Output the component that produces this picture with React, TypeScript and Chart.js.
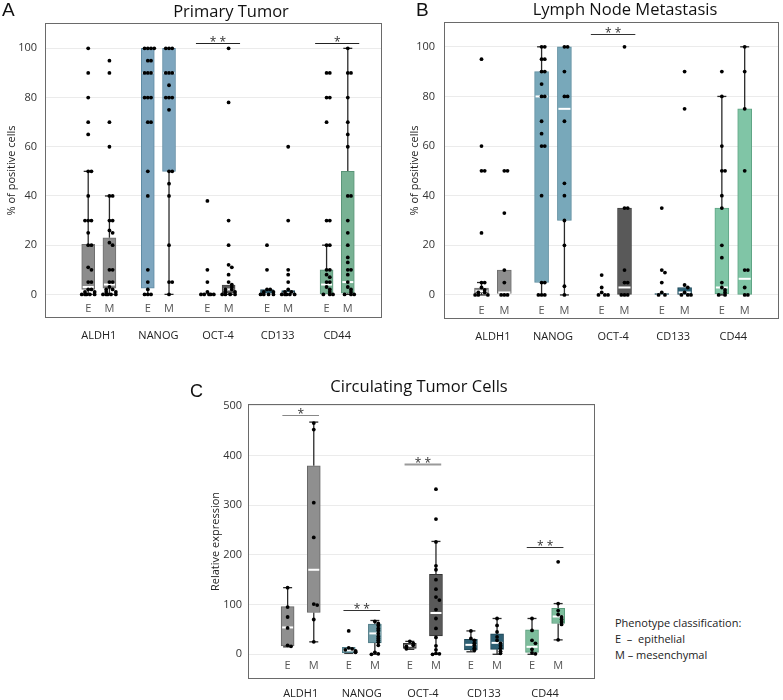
import React, { useEffect, useRef } from 'react';
import { Chart, registerables } from 'chart.js';

Chart.register(...registerables);
Chart.defaults.font.family = "'Open Sans', 'DejaVu Sans', sans-serif";

// ---------------- shared categories ----------------
const GROUPS = ['ALDH1', 'NANOG', 'OCT-4', 'CD133', 'CD44'];
const PHENOTYPES = ['E', 'M'];

// ---------------- Panel A: Primary Tumor (% of positive cells) ----------------
// box order: ALDH1 E, ALDH1 M, NANOG E, NANOG M, OCT-4 E, OCT-4 M, CD133 E, CD133 M, CD44 E, CD44 M
const A_Q1 = [2, 2.5, 2.5, 50, 0, 0.5, 0, 0, 0, 0.5];
const A_MED = [3, 4, 90, 90, 0, 2, 0, 0.5, 4, 5];
const A_Q3 = [20.3, 23, 100, 100, 0.5, 3.8, 2, 1.5, 10, 50];
const A_LO = [0, 0, 0, 0, 0, 0, 0, 0, 0, 0];
const A_HI = [50, 40, 100, 100, 0.5, 3.8, 2, 1.5, 20, 100];
const A_ALDH1_E = [100, 90, 80, 70, 65, 50, 50, 40, 30, 30, 30, 25, 20, 20, 11, 10, 5, 5, 2, 2, 1, 1, 0, 0, 0, 0, 0];
const A_ALDH1_M = [95, 90, 70, 60, 40, 40, 30, 30, 26, 25, 21, 20, 10, 10, 5, 5, 3, 2, 2, 1, 1, 0, 0, 0, 0, 0];
const A_NANOG_E = [100, 100, 100, 100, 95, 95, 90, 90, 90, 80, 80, 80, 70, 70, 50, 40, 10, 5, 2, 0, 0, 0];
const A_NANOG_M = [100, 100, 100, 90, 90, 90, 85, 80, 80, 80, 75, 50, 50, 45, 40, 20, 5, 5, 0];
const A_OCT4_E = [38, 10, 5, 1, 0, 0, 0, 0, 0];
const A_OCT4_M = [100, 78, 30, 20, 12, 11, 8, 5, 4, 3, 2, 2, 1, 1, 0, 0, 0, 0];
const A_CD133_E = [20, 10, 2, 2, 1, 1, 0, 0, 0, 0];
const A_CD133_M = [60, 30, 10, 8, 5, 2, 1, 1, 0, 0, 0, 0, 0];
const A_CD44_E = [90, 90, 80, 80, 70, 30, 30, 20, 20, 10, 10, 8, 7, 5, 5, 3, 2, 1, 0, 0, 0];
const A_CD44_M = [100, 90, 90, 80, 70, 65, 60, 40, 40, 30, 25, 20, 15, 13, 10, 10, 8, 5, 3, 2, 1, 0, 0, 0];
const A_TICKS = [0, 20, 40, 60, 80, 100];
const A_SIG_GROUP = [2, 4];
const A_SIG_Y = [102.3, 102.3];
const A_SIG_TEXT = ['* *', '*'];

// ---------------- Panel B: Lymph Node Metastasis ----------------
const B_Q1 = [0.8, 0.6, 5, 30, 0, 0, 0, 0, 0.5, 0];
const B_MED = [1.5, 1, 80, 75, 0, 3, 0, 1, 3, 6.5];
const B_Q3 = [2.8, 10, 90, 100, 0, 35, 0.5, 3, 35, 75];
const B_LO = [0, 0, 0, 0, 0, 0, 0, 0, 0, 0];
const B_HI = [5, 10, 100, 100, 0, 35, 0.5, 3, 80, 100];
const B_ALDH1_E = [95, 60, 50, 50, 25, 5, 5, 3, 2, 1, 1, 0, 0, 0];
const B_ALDH1_M = [50, 50, 33, 10, 5, 0, 0, 0];
const B_NANOG_E = [100, 100, 95, 95, 90, 90, 85, 80, 80, 70, 65, 60, 60, 40, 5, 5, 0, 0, 0];
const B_NANOG_M = [100, 100, 90, 80, 80, 70, 45, 40, 30, 20, 3.5, 0];
const B_OCT4_E = [8, 3, 1, 0, 0, 0];
const B_OCT4_M = [100, 35, 35, 10, 5, 5, 0, 0, 0];
const B_CD133_E = [35, 10, 9, 5, 1, 0, 0];
const B_CD133_M = [90, 75, 4, 3, 1, 0, 0, 0];
const B_CD44_E = [90, 80, 60, 50, 50, 40, 35, 20, 15, 5, 3, 2, 1, 0, 0];
const B_CD44_M = [100, 90, 75, 50, 10, 10, 3, 0, 0];
const B_TICKS = [0, 20, 40, 60, 80, 100];
const B_SIG_GROUP = [2];
const B_SIG_Y = [105];
const B_SIG_TEXT = ['* *'];

// ---------------- Panel C: Circulating Tumor Cells (relative expression) ----------------
const C_Q1 = [17, 84, 3, 23, 12, 37, 9, 10, 4, 62];
const C_MED = [54, 170, 8, 42, 17, 83, 19, 23, 15, 76];
const C_Q3 = [96, 379, 14, 61, 22, 161, 30, 41, 49, 92.5];
const C_LO = [15, 25, 2, 0, 10, 0, 5, 0, 0, 29];
const C_HI = [134, 467, 14, 68, 26, 227, 47, 72, 72, 102];
const C_ALDH1_E = [134, 95, 75, 53, 18, 16];
const C_ALDH1_M = [465, 452, 305, 235, 101, 99, 70, 25];
const C_NANOG_E = [47, 13, 11, 9, 7, 5, 4];
const C_NANOG_M = [66, 62, 58, 52, 48, 42, 36, 32, 28, 24, 18, 4, 1, 0];
const C_OCT4_E = [26, 22, 18, 16, 13, 11];
const C_OCT4_M = [332, 272, 226, 178, 170, 150, 131, 115, 109, 90, 72, 52, 34, 17, 9, 2, 1, 0];
const C_CD133_E = [47, 32, 28, 22, 18, 12, 8];
const C_CD133_M = [72, 58, 45, 35, 28, 22, 17, 12, 6, 2];
const C_CD44_E = [72, 48, 28, 22, 10, 3, 1];
const C_CD44_M = [186, 102, 88, 80, 75, 70, 65, 60, 29];
const C_TICKS = [0, 100, 200, 300, 400, 500];
const C_SIG_GROUP = [0, 1, 2, 4];
const C_SIG_Y = [481, 89, 382, 215];
const C_SIG_TEXT = ['*', '* *', '* *', '* *'];

// ---------------- styles ----------------
const A_FILL = ['#8c8c8c', '#8c8c8c', '#7ea6bf', '#7ea6bf', '#5c5c5c', '#5c5c5c', '#2f5e70', '#2f5e70', '#78b294', '#78b294'];
const A_EDGE = ['#6f6f6f', '#6f6f6f', '#5f8aa3', '#5f8aa3', '#444444', '#444444', '#234a59', '#234a59', '#5a9478', '#5a9478'];
const B_FILL = ['#8e8e8e', '#8e8e8e', '#78a8ba', '#78a8ba', '#595959', '#595959', '#2b6176', '#2b6176', '#80c5a6', '#80c5a6'];
const B_EDGE = ['#707070', '#707070', '#5d8c9e', '#5d8c9e', '#404040', '#404040', '#1f4a5b', '#1f4a5b', '#5fa585', '#5fa585'];
const C_FILL = ['#8f8f8f', '#8f8f8f', '#6d9aa5', '#6d9aa5', '#595959', '#595959', '#2d5f73', '#2d5f73', '#7dbd9c', '#7dbd9c'];
const C_EDGE = ['#666666', '#666666', '#4e7a86', '#4e7a86', '#333333', '#333333', '#1e4656', '#1e4656', '#5b9c7c', '#5b9c7c'];
const A_SIG_COLOR = ['#222', '#222'];
const B_SIG_COLOR = ['#333'];
const C_SIG_COLOR = ['#888', '#333', '#9a9a9a', '#333'];

type Cfg = {
  left: number; top: number; width: number; height: number;
  padTop: number; padRight: number; yAxisWidth: number; xAxisHeight: number;
  yMin: number; yMax: number; yTicks: number[]; yTitle: string; yTitlePad: number; yTickPad: number;
  xMin: number; xMax: number; emOffset: number; boxWidth: number; emLabelUp: number; xLabelPad: number;
  q1: number[]; med: number[]; q3: number[]; lo: number[]; hi: number[];
  points: number[][]; fill: string[]; edge: string[];
  sigGroup: number[]; sigY: number[]; sigText: string[]; sigColor: string[]; sigHalf: number;
  jStep: number; jTol: number;
};

const JIT = [0, 1, -1, 2, -2, 0.5, -0.5, 1.5, -1.5];

function jitter(values: number[], cx: number, step: number, tol: number) {
  const placed: { x: number; y: number }[] = [];
  values.forEach((v) => {
    const n = placed.filter((p) => Math.abs(p.y - v) < tol).length;
    placed.push({ x: cx + JIT[n % JIT.length] * step, y: v });
  });
  return placed;
}

function Panel({ cfg }: { cfg: Cfg }) {
  const ref = useRef<HTMLCanvasElement>(null);
  useEffect(() => {
    const canvas = ref.current;
    if (!canvas) return;
    const boxX = (i: number) => Math.floor(i / 2) + (i % 2 === 0 ? -cfg.emOffset : cfg.emOffset);
    const scatter: { x: number; y: number }[] = [];
    cfg.points.forEach((vals, i) => jitter(vals, boxX(i), cfg.jStep, cfg.jTol).forEach((p) => scatter.push(p)));

    const plugin = {
      id: 'boxExtras',
      beforeDatasetsDraw(chart: any) {
        const { ctx, scales } = chart;
        const x = scales.x, y = scales.y;
        ctx.save();
        ctx.strokeStyle = '#2a2a2a';
        ctx.lineWidth = 1.3;
        for (let i = 0; i < cfg.q1.length; i++) {
          const px = x.getPixelForValue(boxX(i));
          const seg = (a: number, b: number) => {
            ctx.beginPath();
            ctx.moveTo(px, y.getPixelForValue(a));
            ctx.lineTo(px, y.getPixelForValue(b));
            ctx.stroke();
            const yy = y.getPixelForValue(b);
            ctx.beginPath();
            ctx.moveTo(px - 4.5, yy);
            ctx.lineTo(px + 4.5, yy);
            ctx.stroke();
          };
          if (cfg.hi[i] > cfg.q3[i]) seg(cfg.q3[i], cfg.hi[i]);
          if (cfg.lo[i] < cfg.q1[i]) seg(cfg.q1[i], cfg.lo[i]);
        }
        ctx.restore();
      },
      afterDatasetDraw(chart: any, args: any) {
        if (args.index !== 0) return;
        const { ctx, scales } = chart;
        const x = scales.x, y = scales.y;
        ctx.save();
        ctx.strokeStyle = '#ffffff';
        ctx.lineWidth = 2;
        for (let i = 0; i < cfg.q1.length; i++) {
          if (cfg.q3[i] - cfg.q1[i] <= 0.6) continue;
          const px = x.getPixelForValue(boxX(i));
          const py = y.getPixelForValue(cfg.med[i]);
          ctx.beginPath();
          ctx.moveTo(px - cfg.boxWidth / 2 + 1, py);
          ctx.lineTo(px + cfg.boxWidth / 2 - 1, py);
          ctx.stroke();
        }
        ctx.restore();
      },
      afterDraw(chart: any) {
        const { ctx, scales, chartArea } = chart;
        const x = scales.x, y = scales.y;
        ctx.save();
        // frame
        ctx.strokeStyle = '#6a6a6a';
        ctx.lineWidth = 1;
        ctx.strokeRect(
          Math.round(chartArea.left) + 0.5,
          Math.round(chartArea.top) + 0.5,
          Math.round(chartArea.right - chartArea.left) - 1,
          Math.round(chartArea.bottom - chartArea.top) - 1
        );
        // E / M labels
        ctx.fillStyle = '#555';
        ctx.font = "11px 'Open Sans', sans-serif";
        ctx.textAlign = 'center';
        ctx.textBaseline = 'middle';
        for (let i = 0; i < cfg.q1.length; i++) {
          ctx.fillText(PHENOTYPES[i % 2], x.getPixelForValue(boxX(i)), chartArea.bottom - cfg.emLabelUp);
        }
        // significance bars
        cfg.sigGroup.forEach((g, k) => {
          const x1 = x.getPixelForValue(g - cfg.sigHalf);
          const x2 = x.getPixelForValue(g + cfg.sigHalf);
          const py = Math.round(y.getPixelForValue(cfg.sigY[k])) + 0.5;
          ctx.strokeStyle = cfg.sigColor[k];
          ctx.lineWidth = cfg.sigColor[k] === '#9a9a9a' ? 1.8 : 1;
          ctx.beginPath();
          ctx.moveTo(x1, py);
          ctx.lineTo(x2, py);
          ctx.stroke();
          ctx.fillStyle = '#333';
          ctx.font = "12px 'Open Sans', sans-serif";
          ctx.textBaseline = 'alphabetic';
          ctx.fillText(cfg.sigText[k], (x1 + x2) / 2, py + 2);
        });
        ctx.restore();
      },
    };

    const chart = new Chart(canvas, {
      type: 'bar',
      data: {
        datasets: [
          {
            type: 'bar',
            data: cfg.q1.map((q, i) => ({ x: boxX(i), y: [q, cfg.q3[i]] })) as any,
            backgroundColor: cfg.fill,
            borderColor: cfg.edge,
            borderWidth: 1,
            borderSkipped: false,
            barThickness: cfg.boxWidth,
            order: 1,
          } as any,
          {
            type: 'scatter',
            data: scatter,
            backgroundColor: '#000',
            borderWidth: 0,
            pointRadius: 1.9,
            order: 0,
          } as any,
        ],
      },
      options: {
        responsive: false,
        animation: false,
        devicePixelRatio: 1,
        events: [],
        layout: { padding: { top: cfg.padTop, right: cfg.padRight, left: 0, bottom: 0 } },
        plugins: { legend: { display: false }, tooltip: { enabled: false }, title: { display: false } },
        scales: {
          x: {
            type: 'linear',
            min: cfg.xMin,
            max: cfg.xMax,
            bounds: 'data',
            offset: false,
            grid: { display: false, drawTicks: false },
            border: { display: false },
            afterBuildTicks: (axis: any) => {
              axis.ticks = GROUPS.map((_, i) => ({ value: i }));
            },
            afterFit: (axis: any) => {
              axis.height = cfg.xAxisHeight;
            },
            ticks: {
              autoSkip: false,
              maxRotation: 0,
              padding: cfg.xLabelPad,
              color: '#222',
              font: { size: 11 },
              callback: (v: any) => GROUPS[Math.round(Number(v))] ?? '',
            },
          },
          y: {
            type: 'linear',
            min: cfg.yMin,
            max: cfg.yMax,
            bounds: 'data',
            grid: { color: '#ebebeb', drawTicks: false, lineWidth: 1 },
            border: { display: false },
            afterBuildTicks: (axis: any) => {
              axis.ticks = cfg.yTicks.map((v) => ({ value: v }));
            },
            afterFit: (axis: any) => {
              axis.width = cfg.yAxisWidth;
            },
            ticks: { padding: cfg.yTickPad, color: '#333', font: { size: 11 } },
            title: {
              display: true,
              text: cfg.yTitle,
              color: '#222',
              font: { size: 11 },
              padding: { top: cfg.yTitlePad, bottom: 0 },
            },
          },
        },
      } as any,
      plugins: [plugin as any],
    });
    return () => chart.destroy();
  }, []);
  return (
    <canvas
      ref={ref}
      width={cfg.width}
      height={cfg.height}
      style={{ position: 'absolute', left: cfg.left, top: cfg.top, width: cfg.width, height: cfg.height }}
    />
  );
}

const CFG_A: Cfg = {
  left: 0, top: 0, width: 390, height: 345, padTop: 23, padRight: 8, yAxisWidth: 45, xAxisHeight: 27,
  yMin: -9.6, yMax: 110.3, yTicks: A_TICKS, yTitle: '% of positive cells', yTitlePad: 5, yTickPad: 8,
  xMin: -0.903, xMax: 4.752, emOffset: 0.178, boxWidth: 13, emLabelUp: 9, xLabelPad: 11,
  q1: A_Q1, med: A_MED, q3: A_Q3, lo: A_LO, hi: A_HI,
  points: [A_ALDH1_E, A_ALDH1_M, A_NANOG_E, A_NANOG_M, A_OCT4_E, A_OCT4_M, A_CD133_E, A_CD133_M, A_CD44_E, A_CD44_M],
  fill: A_FILL, edge: A_EDGE,
  sigGroup: A_SIG_GROUP, sigY: A_SIG_Y, sigText: A_SIG_TEXT, sigColor: A_SIG_COLOR, sigHalf: 0.37,
  jStep: 0.054, jTol: 1.3,
};

const CFG_B: Cfg = {
  left: 390, top: 0, width: 393, height: 345, padTop: 22, padRight: 2, yAxisWidth: 54, xAxisHeight: 26,
  yMin: -9.7, yMax: 110, yTicks: B_TICKS, yTitle: '% of positive cells', yTitlePad: 18, yTickPad: 9,
  xMin: -0.814, xMax: 4.761, emOffset: 0.19, boxWidth: 14, emLabelUp: 8, xLabelPad: 11,
  q1: B_Q1, med: B_MED, q3: B_Q3, lo: B_LO, hi: B_HI,
  points: [B_ALDH1_E, B_ALDH1_M, B_NANOG_E, B_NANOG_M, B_OCT4_E, B_OCT4_M, B_CD133_E, B_CD133_M, B_CD44_E, B_CD44_M],
  fill: B_FILL, edge: B_EDGE,
  sigGroup: B_SIG_GROUP, sigY: B_SIG_Y, sigText: B_SIG_TEXT, sigColor: B_SIG_COLOR, sigHalf: 0.37,
  jStep: 0.053, jTol: 1.3,
};

const CFG_C: Cfg = {
  left: 200, top: 360, width: 400, height: 340, padTop: 44, padRight: 5, yAxisWidth: 48, xAxisHeight: 21,
  yMin: -49.7, yMax: 503.4, yTicks: C_TICKS, yTitle: 'Relative expression', yTitlePad: 9, yTickPad: 6,
  xMin: -0.8625, xMax: 4.817, emOffset: 0.214, boxWidth: 13, emLabelUp: 13, xLabelPad: 8,
  q1: C_Q1, med: C_MED, q3: C_Q3, lo: C_LO, hi: C_HI,
  points: [C_ALDH1_E, C_ALDH1_M, C_NANOG_E, C_NANOG_M, C_OCT4_E, C_OCT4_M, C_CD133_E, C_CD133_M, C_CD44_E, C_CD44_M],
  fill: C_FILL, edge: C_EDGE,
  sigGroup: C_SIG_GROUP, sigY: C_SIG_Y, sigText: C_SIG_TEXT, sigColor: C_SIG_COLOR, sigHalf: 0.3,
  jStep: 0.056, jTol: 6.5,
};

const TITLE_STYLE: React.CSSProperties = {
  position: 'absolute',
  fontFamily: "'Open Sans', sans-serif",
  fontSize: 16.5,
  lineHeight: '20px',
  color: '#111',
  whiteSpace: 'nowrap',
  transform: 'translateX(-50%)',
};
const LETTER_STYLE: React.CSSProperties = {
  position: 'absolute',
  fontFamily: "'Liberation Sans', Arial, sans-serif",
  fontSize: 19,
  lineHeight: '19px',
  color: '#111',
};

export default function App() {
  return (
    <div
      style={{
        position: 'absolute',
        left: 0,
        top: 0,
        width: 783,
        height: 700,
        background: '#fff',
        overflow: 'hidden',
      }}
    >
      <Panel cfg={CFG_A} />
      <Panel cfg={CFG_B} />
      <Panel cfg={CFG_C} />
      <div style={{ ...LETTER_STYLE, left: 2, top: 0 }}>A</div>
      <div style={{ ...LETTER_STYLE, left: 416, top: 0 }}>B</div>
      <div style={{ ...LETTER_STYLE, left: 190, top: 382, fontSize: 18 }}>C</div>
      <div style={{ ...TITLE_STYLE, left: 231, top: 1 }}>Primary Tumor</div>
      <div style={{ ...TITLE_STYLE, left: 625, top: -1 }}>Lymph Node Metastasis</div>
      <div style={{ ...TITLE_STYLE, left: 419, top: 376 }}>Circulating Tumor Cells</div>
      <div
        style={{
          position: 'absolute',
          left: 615,
          top: 615,
          fontFamily: "'Open Sans', sans-serif",
          fontSize: 11,
          lineHeight: '16px',
          color: '#222',
          whiteSpace: 'pre',
        }}
      >
        {'Phenotype classification:\nE  \u2013  epithelial\nM \u2013 mesenchymal'}
      </div>
    </div>
  );
}
